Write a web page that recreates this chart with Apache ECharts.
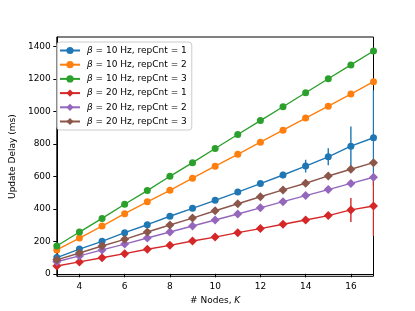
<!DOCTYPE html>
<html><head><meta charset="utf-8">
<script src="https://cdn.jsdelivr.net/npm/echarts@6/dist/echarts.min.js"></script>
<style>html,body{margin:0;padding:0;background:#fff}#c{width:415px;height:311px}</style>
</head><body><div id="c"></div>
<script>
const nodes = [3,4,5,6,7,8,9,10,11,12,13,14,15,16,17];
const xTicks = [4,6,8,10,12,14,16];
const yTicks = [0,200,400,600,800,1000,1200,1400];
const seriesNames = ['b10r1','b10r2','b10r3','b20r1','b20r2','b20r3'];
const labels = {
  b10r1:'{i|β} = 10 Hz, repCnt = 1', b10r2:'{i|β} = 10 Hz, repCnt = 2', b10r3:'{i|β} = 10 Hz, repCnt = 3',
  b20r1:'{i|β} = 20 Hz, repCnt = 1', b20r2:'{i|β} = 20 Hz, repCnt = 2', b20r3:'{i|β} = 20 Hz, repCnt = 3'
};
const colors = ['#1f77b4','#ff7f0e','#2ca02c','#d62728','#9467bd','#8c564b'];
const b10r1 = [100,152,200,253,302,354,403,452,503,555,608,663,720,785,837];
const b10r2 = [147,220,294,370,443,514,588,662,735,810,884,958,1031,1106,1182];
const b10r3 = [171,257,341,428,512,600,684,771,857,943,1028,1114,1200,1285,1371];
const b20r1 = [48,73,99,124,151,175,202,226,253,278,305,331,358,393,417];
const b20r2 = [74,110,147,183,220,257,294,331,368,406,444,481,518,556,594];
const b20r3 = [86,128,171,212,257,300,343,388,431,474,516,557,602,643,684];
const err10r1 = [0,0,0,0,0,0,0,0,0,0,20,39,52,121,293];
const err20r1 = [0,0,0,0,0,0,0,0,0,0,0,0,0,74,185];
const zeros = nodes.map(()=>0);
const vals = [b10r1,b10r2,b10r3,b20r1,b20r2,b20r3];
const errs = [err10r1,zeros,zeros,err20r1,zeros,zeros];
const symbols = ['circle','circle','circle','diamond','diamond','diamond'];

const FONT = 'DejaVu Sans';
const chart = echarts.init(document.getElementById('c'));
const series = [];
vals.forEach((v,k)=>{
  series.push({
    name: seriesNames[k], type:'line', data: nodes.map((x,i)=>[x,v[i]]),
    symbol: symbols[k], symbolSize: k<3?7:9, showSymbol:true,
    lineStyle:{width:1.4,color:colors[k]}, itemStyle:{color:colors[k]},
    emphasis:{disabled:true}, animation:false, z:2+k*2, clip:true
  });
  if (errs[k].some(e=>e>0)) {
    series.push({
      type:'custom', name: seriesNames[k], z:3+k*2, animation:false, clip:true,
      data: nodes.map((x,i)=>[x,v[i],errs[k][i]]),
      renderItem:(params,api)=>{
        const x=api.value(0), y=api.value(1), e=api.value(2);
        if(!e) return null;
        const p1=api.coord([x,y-e]), p2=api.coord([x,y+e]);
        return {type:'line',shape:{x1:p1[0],y1:p1[1],x2:p2[0],y2:p2[1]},style:{stroke:colors[k],lineWidth:1.4}};
      }
    });
  }
});

chart.setOption({
  animation:false,
  textStyle:{fontFamily:FONT},
  grid:{left:51.7,right:41.5,top:37,bottom:34.7,show:true,borderColor:'#000',borderWidth:1,backgroundColor:'transparent'},
  legend:{
    orient:'vertical', left:57, top:42, data: seriesNames,
    formatter: n=>labels[n],
    itemWidth:20, itemHeight:9, itemGap:5.2,
    padding:[4,5,4,2], backgroundColor:'rgba(255,255,255,0.8)', borderColor:'#ccc', borderWidth:1, borderRadius:3,
    textStyle:{fontFamily:FONT,fontSize:9,color:'#000',padding:[0,0,0,2],rich:{i:{fontStyle:'italic',fontFamily:FONT,fontSize:9}}},
    selectedMode:false
  },
  xAxis:{
    type:'value', min:3, max:17,
    name:'# Nodes, {i|K}', nameLocation:'middle', nameGap:17,
    nameTextStyle:{fontFamily:FONT,fontSize:9,color:'#000',rich:{i:{fontStyle:'italic',fontFamily:FONT,fontSize:9}}},
    axisLine:{show:true,lineStyle:{color:'#000',width:1}},
    axisTick:{show:true,length:3.5,lineStyle:{color:'#000'},customValues:xTicks},
    axisLabel:{color:'#000',fontSize:9,fontFamily:FONT,margin:5.5,customValues:xTicks,formatter:v=>String(v)},
    splitLine:{show:false}
  },
  yAxis:{
    type:'value', min:-15.4, max:1457,
    name:'Update Delay (ms)', nameLocation:'middle', nameGap:34, nameRotate:90,
    nameTextStyle:{fontFamily:FONT,fontSize:9,color:'#000'},
    axisLine:{show:true,lineStyle:{color:'#000',width:1}},
    axisTick:{show:true,length:3.5,lineStyle:{color:'#000'},customValues:yTicks},
    axisLabel:{color:'#000',fontSize:9,fontFamily:FONT,margin:6,customValues:yTicks,formatter:v=>String(v)},
    splitLine:{show:false}
  },
  series: series
});
</script></body></html>
